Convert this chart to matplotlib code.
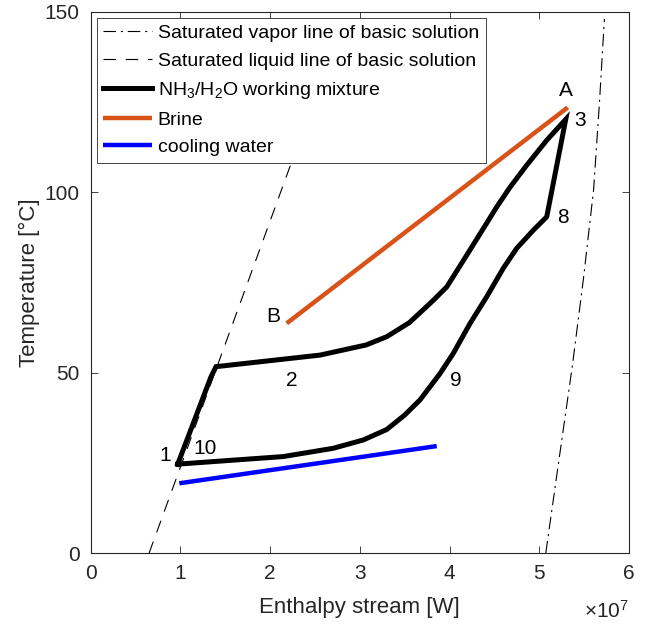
import matplotlib
matplotlib.use("Agg")
import matplotlib.pyplot as plt
import numpy as np

plt.rcParams['font.family'] = ['Liberation Sans', 'DejaVu Sans']
plt.rcParams['mathtext.fontset'] = 'custom'
plt.rcParams['mathtext.rm'] = 'Liberation Sans'
plt.rcParams['mathtext.it'] = 'Liberation Sans:italic'
plt.rcParams['lines.scale_dashes'] = False

SCALE = 1e7  # enthalpy stream values below are in units of 1e7 W

# Saturated vapor line of basic solution
vap_h = [5.072, 5.22, 5.369, 5.492, 5.605, 5.670, 5.726]
vap_t = [0.0, 26.0, 52.0, 76.0, 100.6, 124.6, 148.0]

# Saturated liquid line of basic solution
liq_h = [0.65, 2.85]
liq_t = [0.0, 150.0]

# NH3/H2O working mixture cycle (1 -> 2 -> 3 -> 8 -> 9 -> 10 -> 1)
wm_h = [0.97, 1.341, 1.397, 2.556, 3.069, 3.30, 3.552, 3.820, 3.969, 4.154,
        4.340, 4.525, 4.674, 4.860, 5.083, 5.295,
        5.083, 4.934, 4.749, 4.600, 4.415, 4.229, 4.042, 3.894, 3.671,
        3.50, 3.30, 3.039, 2.705, 2.147, 0.97]
wm_t = [24.7, 48.9, 51.7, 54.9, 57.7, 60.0, 63.9, 70.1, 73.8, 81.1,
        88.5, 95.9, 101.4, 107.5, 114.4, 120.2,
        93.2, 89.5, 84.5, 79.0, 71.1, 63.7, 55.4, 49.8, 42.5,
        38.3, 34.3, 31.4, 29.1, 26.8, 24.7]

# Brine (B -> A)
brine_h = [2.185, 5.317]
brine_t = [63.7, 123.5]

# Cooling water
cw_h = [0.988, 3.857]
cw_t = [19.4, 29.7]

# Point labels
pt_labels = ['A', '3', '8', '9', 'B', '2', '1', '10']
pt_h = [5.30, 5.455, 5.265, 4.07, 2.04, 2.245, 0.83, 1.28]
pt_t = [128.3, 120.0, 93.0, 48.0, 65.7, 48.0, 27.2, 29.0]

xticks = [0, 1, 2, 3, 4, 5, 6]
yticks = [0, 50, 100, 150]

fig = plt.figure(figsize=(6.45, 6.27), dpi=100)
ax = fig.add_axes([0.1406, 0.1175, 0.9752 - 0.1406, 0.9813 - 0.1175])

sc = lambda v: np.asarray(v) * SCALE

ax.plot(sc(vap_h), vap_t, color='k', lw=0.8, dashes=(9, 3.5, 1.5, 3.5),
        label='Saturated vapor line of basic solution')
ax.plot(sc(liq_h), liq_t, color='k', lw=0.8, dashes=(9, 7),
        label='Saturated liquid line of basic solution')
ax.plot(sc(wm_h), wm_t, color='k', lw=3.6, solid_joinstyle='miter',
        label='NH$_3$/H$_2$O working mixture')
ax.plot(sc(brine_h), brine_t, color='#D95319', lw=3.2, solid_capstyle='butt',
        label='Brine')
ax.plot(sc(cw_h), cw_t, color='#0000FF', lw=3.2, solid_capstyle='butt',
        label='cooling water')

for s, h, t in zip(pt_labels, pt_h, pt_t):
    ax.text(h * SCALE, t, s, fontsize=15, ha='center', va='center', color='k')

ax.set_xlim(0, 6 * SCALE)
ax.set_ylim(0, 150)
ax.set_xticks([v * SCALE for v in xticks])
ax.set_xticklabels([str(v) for v in xticks])
ax.set_yticks(yticks)
ax.set_yticklabels([str(v) for v in yticks])

gray = '#262626'
ax.tick_params(direction='in', length=5, width=0.6, colors=gray,
               labelsize=15, top=True, right=True, pad=8,
               labelcolor=gray)
for sp in ax.spines.values():
    sp.set_color(gray)
    sp.set_linewidth(0.8)

ax.set_xlabel('Enthalpy stream [W]', fontsize=16, color=gray, labelpad=10)
ax.set_ylabel('Temperature [°C]', fontsize=16, color=gray, labelpad=3)
ax.text(1.0, -0.107, r'$\times\mathregular{10^{7}}$', transform=ax.transAxes,
        fontsize=15, ha='right', va='center', color=gray)

leg = ax.legend(loc='upper left', fontsize=14, frameon=True, fancybox=False,
                edgecolor=gray, framealpha=1, handlelength=2.5,
                handletextpad=0.3, labelspacing=0.52, borderpad=0.35,
                borderaxespad=0.3)
leg.get_frame().set_linewidth(0.6)

fig.savefig('out.png', dpi=100)
